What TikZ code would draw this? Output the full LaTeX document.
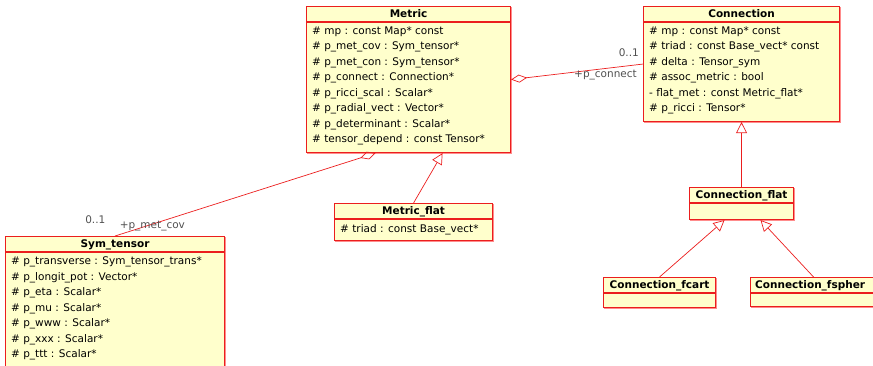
\documentclass[tikz,border=0pt]{standalone}
\usepackage{fontspec}
\setmainfont{DejaVu Sans}
\usetikzlibrary{positioning, arrows.meta}
\definecolor{umlfill}{RGB}{255,255,204}
\definecolor{umlred}{RGB}{235,30,30}
\definecolor{umlshade}{RGB}{255,140,140}
\definecolor{rolegray}{RGB}{80,80,80}
\tikzset{
    cls/.style={rectangle, draw=umlred, fill=umlfill, line width=1.1pt, anchor=north west, inner sep=0pt,
        preaction={draw=umlshade, line width=1.1pt, transform canvas={xshift=1pt, yshift=-1pt}}},
    ctitle/.style={font=\fontsize{10.5}{12}\selectfont\bfseries, anchor=base, inner sep=0pt},
    cattr/.style={font=\fontsize{10.5}{15.5}\selectfont, align=left, anchor=north west, inner sep=0pt,
        execute at begin node={\rule{0pt}{9pt}}},
    classline/.style={draw=umlred, line width=1.1pt},
    aggr/.style={draw=umlred, line width=0.7pt, {Diamond[open, length=16pt, width=8pt]}-},
    inherit/.style={draw=umlred, line width=0.7pt, -{Triangle[open, length=11pt, width=11pt]}},
    role/.style={font=\fontsize{10.5}{12}\selectfont, text=rolegray, inner sep=0pt},
}
\begin{document}
\begin{tikzpicture}[x=1pt, y=-1pt]
                        \useasboundingbox (0,0) rectangle (873,365);
                        \node [cls, minimum width=204pt, minimum height=146pt] (metric) at (306,6) {};
                        \node [cls, minimum width=196pt, minimum height=115pt] (connection) at (643,6) {};
                        \node [cls, minimum width=219pt, minimum height=150pt] (symtensor) at (5,236) {};
                        \node [cls, minimum width=158pt, minimum height=37pt] (metricflat) at (334,203) {};
                        \node [cls, minimum width=104pt, minimum height=32pt] (connflat) at (689,187) {};
                        \node [cls, minimum width=112pt, minimum height=30pt] (connfcart) at (603,277) {};
                        \node [cls, minimum width=130pt, minimum height=29pt] (connfspher) at (750,277) {};
                        \foreach \c in {metric, connection, symtensor, metricflat, connflat, connfcart, connfspher}
                            \draw [classline] ([yshift=-16pt]\c.north west) -- ([yshift=-16pt]\c.north east);
                        \node [ctitle] (metrictitle) at ([yshift=-11.5pt]metric.north) {Metric};
                        \node [ctitle] (conntitle) at ([yshift=-11.5pt]connection.north) {Connection};
                        \node [ctitle] (symtitle) at ([yshift=-11.5pt]symtensor.north) {Sym\_tensor};
                        \node [ctitle] (mflattitle) at ([yshift=-11.5pt]metricflat.north) {Metric\_flat};
                        \node [ctitle] (cflattitle) at ([yshift=-11.5pt]connflat.north) {Connection\_flat};
                        \node [ctitle] (cfcarttitle) at ([yshift=-11.5pt]connfcart.north) {Connection\_fcart};
                        \node [ctitle, anchor=base west] (cfsphertitle) at ([xshift=5pt, yshift=-11.5pt]connfspher.north west) {Connection\_fspher};
                        \node [cattr] (metricattr) at ([xshift=6pt, yshift=-20.5pt]metric.north west)
                            {\# mp : const Map* const\\ \# p\_met\_cov : Sym\_tensor*\\ \# p\_met\_con : Sym\_tensor*\\
                             \# p\_connect : Connection*\\ \# p\_ricci\_scal : Scalar*\\ \# p\_radial\_vect : Vector*\\
                             \# p\_determinant : Scalar*\\ \# tensor\_depend : const Tensor*};
                        \node [cattr] (connattr) at ([xshift=6pt, yshift=-20.5pt]connection.north west)
                            {\# mp : const Map* const\\ \# triad : const Base\_vect* const\\ \# delta : Tensor\_sym\\
                             \# assoc\_metric : bool\\ - flat\_met : const Metric\_flat*\\ \# p\_ricci : Tensor*};
                        \node [cattr] (symattr) at ([xshift=6pt, yshift=-20.5pt]symtensor.north west)
                            {\# p\_transverse : Sym\_tensor\_trans*\\ \# p\_longit\_pot : Vector*\\ \# p\_eta : Scalar*\\
                             \# p\_mu : Scalar*\\ \# p\_www : Scalar*\\ \# p\_xxx : Scalar*\\ \# p\_ttt : Scalar*};
                        \node [cattr] (mflatattr) at ([xshift=6pt, yshift=-20.5pt]metricflat.north west) {\# triad : const Base\_vect*};
                        \draw [aggr] (metric.east) -- (connection.west);
                        \draw [aggr] ([xshift=-33pt]metric.south) -- (symtensor.north);
                        \draw [inherit] (metricflat.north) -- ([xshift=34pt]metric.south);
                        \draw [inherit] (connflat.north) -- (connection.south);
                        \draw [inherit] (connfcart.north) -- ([xshift=-17pt]connflat.south);
                        \draw [inherit] ([xshift=-2pt]connfspher.north) -- ([xshift=19pt]connflat.south);
                        \node [role, anchor=south east] (connmult) at ([xshift=-4pt, yshift=7.5pt]connection.west) {0..1};
                        \node [role, anchor=north east] (connrole) at ([xshift=-6pt, yshift=-5.5pt]connection.west) {+p\_connect};
                        \node [role, anchor=south east] (symmult) at ([xshift=-9.5pt, yshift=12pt]symtensor.north) {0..1};
                        \node [role, anchor=base west] (symrole) at ([xshift=4.5pt, yshift=8pt]symtensor.north) {+p\_met\_cov};
                    \end{tikzpicture}
\end{document}
